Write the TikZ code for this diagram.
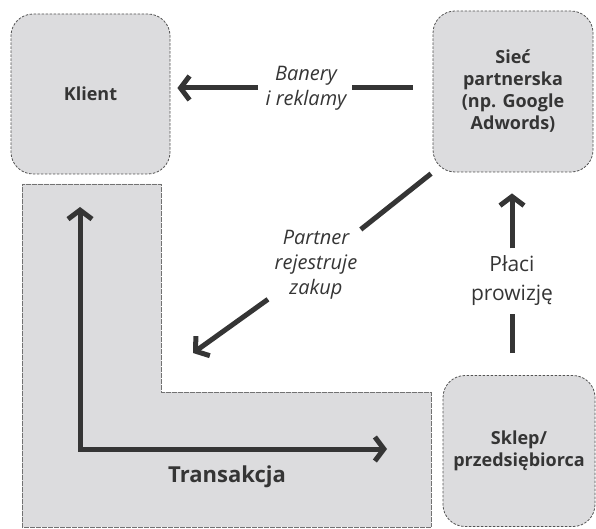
\documentclass[tikz,border=0pt]{standalone}
\usepackage{fontspec}
\setmainfont{Open Sans}
\usepackage{tikz}
\usepackage{xcolor}
\usetikzlibrary{arrows.meta}
\definecolor{boxgray}{HTML}{DCDCDE}
\definecolor{inkgray}{HTML}{353535}
\tikzset{
    entity-box/.style = {draw=inkgray!85, dash pattern=on 2.5pt off 1.5pt, fill=boxgray, line width=0.8pt, rectangle, rounded corners=22pt, align=center, text=inkgray, font=\fontsize{18}{22}\selectfont\bfseries},
    flow-line/.style = {draw=inkgray, line width=5pt},
    flow-arrow/.style = {flow-line, -{Straight Barb[length=9pt,width=24pt]}},
    flow-label/.style = {align=center, text=inkgray, font=\fontsize{20}{25}\selectfont\itshape},
}

\begin{document}
\begin{tikzpicture}[x=1pt, y=-1pt]
\useasboundingbox (0,0) rectangle (596,529);
\fill[boxgray] (22,184) -- (161,184) -- (161,392) -- (431,392) -- (431,527) -- (22,527) -- cycle;
\draw[inkgray!70, densely dotted, very thin] (22,184) -- (161,184) -- (161,392) -- (431,392) -- (431,527) -- (22,527) -- cycle;
\node [entity-box, minimum width=159pt, minimum height=160pt] (klient) at (90.5,94) {Klient};
\node [entity-box, minimum width=160pt, minimum height=161pt] (siec) at (513,91.5) {Sieć\\partnerska\\(np. Google\\Adwords)};
\node [entity-box, minimum width=152pt, minimum height=151pt] (sklep) at (519,451) {Sklep/\\przedsiębiorca};
\node [flow-label] (banery) at (306,88) {Banery\\i reklamy};
\node [flow-label] (partner) at (316,265) {Partner\\rejestruje\\zakup};
\node [flow-label, font=\fontsize{21}{29}\selectfont] (placi) at (512,281) {Płaci\\prowizję};
\node [text=inkgray, font=\fontsize{22}{24}\selectfont\bfseries] (transakcja) at (227,477) {Transakcja};
\coordinate (zakup-tip) at (193,353);
\coordinate (trans-top) at (80,207);
\coordinate (trans-right) at (387,449);
\draw[flow-arrow, shorten >=7pt] (banery.west) ++(-4,0) -- (klient.east |- banery.west);
\draw[flow-line, shorten <=20pt, shorten >=2pt] (siec.west |- banery.east) -- (banery.east);
\draw[flow-line, shorten <=2pt] (siec.south west) -- (partner);
\draw[flow-arrow, shorten <=4pt] (partner) -- (zakup-tip);
\draw[flow-line, shorten <=22pt, shorten >=4pt] (placi.south |- sklep.north) -- (placi.south);
\draw[flow-arrow, shorten <=4pt, shorten >=21pt] (placi.north) -- (placi.north |- siec.south);
\draw[flow-line, {Straight Barb[length=9pt,width=24pt]}-{Straight Barb[length=9pt,width=24pt]}] (trans-top) |- (trans-right);
\end{tikzpicture}
\end{document}
